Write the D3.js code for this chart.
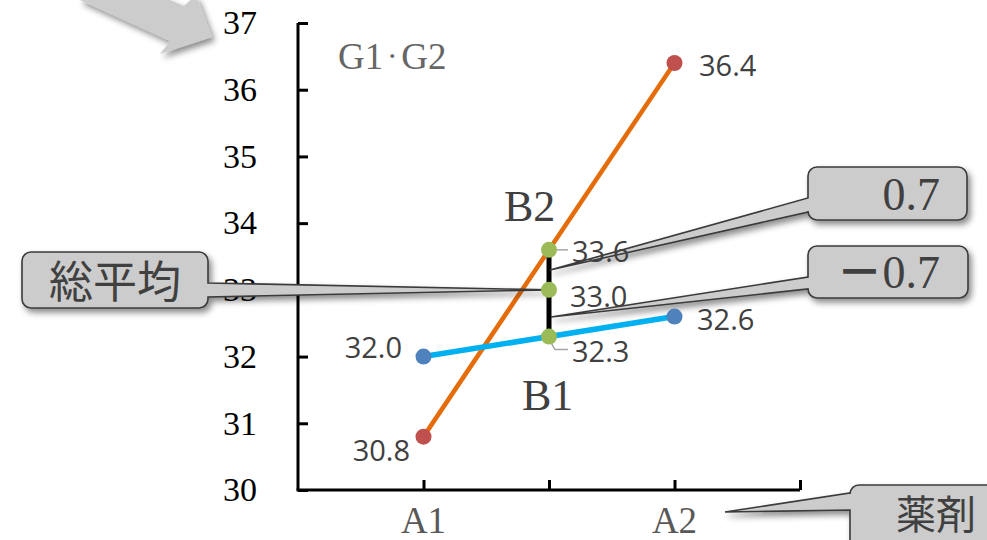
<!DOCTYPE html>
<html><head><meta charset="utf-8">
<script src="https://cdn.jsdelivr.net/npm/d3@7/dist/d3.min.js"></script>
<style>body{margin:0;background:#fff}svg{display:block}</style>
</head><body>
<svg id="c" width="987" height="540"></svg>
<script>
const categories = ["A1", "A2"];
const catPos = [1, 3];
const seriesB2 = [30.8, 36.4];
const seriesB1 = [32.0, 32.6];
const meanValues = [33.6, 33.0, 32.3];
const meanLabels = ["33.6", "33.0", "32.3"];
const yTicks = [30, 31, 32, 33, 34, 35, 36, 37];
const xTickPos = [1, 2, 3, 4];

const svg = d3.select("#c");
const x = d3.scaleLinear().domain([0, 4]).range([298, 800]);
const y = d3.scaleLinear().domain([30, 37]).range([490, 23]);

const defs = svg.append("defs");
const f = defs.append("filter").attr("id", "sh").attr("x", "-20%").attr("y", "-20%").attr("width", "150%").attr("height", "160%");
f.append("feDropShadow").attr("dx", 3).attr("dy", 4).attr("stdDeviation", 3).attr("flood-color", "#000").attr("flood-opacity", 0.45);

// top-left block arrow
svg.append("path")
  .attr("d", d3.line()([[80,0],[170,41],[160,54],[212,37],[196,-5],[184,6],[100,-30]]) + "Z")
  .attr("fill", "#cccccc").attr("filter", "url(#sh)");

// axes
const yAxis = d3.axisRight(y).tickValues(yTicks).tickSize(10).tickFormat("");
const gy = svg.append("g").attr("transform", `translate(${x(0)},0)`).call(yAxis);
gy.select(".domain").attr("d", `M0,${y(37)}V${y(30)}`);
gy.selectAll("path,line").attr("stroke", "#000").attr("stroke-width", 3);

const xAxis = d3.axisTop(x).tickValues(xTickPos).tickSize(10).tickFormat("");
const gx = svg.append("g").attr("transform", `translate(0,${y(30)})`).call(xAxis);
gx.select(".domain").attr("d", `M${x(0)-1.5},0H${x(4)}`);
gx.selectAll("path,line").attr("stroke", "#000").attr("stroke-width", 3);

// y tick labels
svg.append("g").selectAll("text").data(yTicks).join("text")
  .attr("x", 257).attr("y", d => y(d)).attr("dy", "0.33em")
  .attr("text-anchor", "end")
  .attr("font-family", "Liberation Serif").attr("font-size", 34).attr("fill", "#000")
  .text(d => d);

// x category labels
svg.append("g").selectAll("text").data(categories).join("text")
  .attr("x", (d, i) => x(catPos[i])).attr("y", 533)
  .attr("text-anchor", "middle")
  .attr("font-family", "Liberation Serif").attr("font-size", 37).attr("fill", "#595959")
  .text(d => d);

// G1・G2
const g12 = svg.append("text").attr("x", 338).attr("y", 69)
  .attr("font-family", "Liberation Serif").attr("font-size", 37).attr("fill", "#666");
g12.append("tspan").text("G1");
g12.append("tspan").attr("font-size", 18).attr("dy", -6).attr("font-family", "Noto Sans CJK JP").text("・");
g12.append("tspan").attr("dy", 6).text("G2");

const line = d3.line().x(d => x(d[0])).y(d => y(d[1]));

// B2 line
svg.append("path").datum(catPos.map((p, i) => [p, seriesB2[i]]))
  .attr("d", line).attr("fill", "none").attr("stroke", "#e46c0a").attr("stroke-width", 4.5);
// B1 line
svg.append("path").datum(catPos.map((p, i) => [p, seriesB1[i]]))
  .attr("d", line).attr("fill", "none").attr("stroke", "#00b0f0").attr("stroke-width", 5.5);

// vertical black line across means
svg.append("path").datum([[2, d3.max(meanValues)], [2, d3.min(meanValues)]])
  .attr("d", line).attr("fill", "none").attr("stroke", "#000").attr("stroke-width", 5);

// mean leader lines
svg.append("path").attr("d", `M${x(2)+6},${y(meanValues[0])}H${x(2)+19}`)
  .attr("stroke", "#a6a6a6").attr("stroke-width", 1.5).attr("fill", "none");
svg.append("path").attr("d", `M${x(2)+2},${y(meanValues[2])+6}L${x(2)+6},${y(meanValues[2])+13}H${x(2)+19}`)
  .attr("stroke", "#a6a6a6").attr("stroke-width", 1.5).attr("fill", "none");

// callouts
function callout(bx, by, bw, bh, r, side, a, b, tip) {
  const X2 = bx + bw, Y2 = by + bh;
  let p = `M${bx + r},${by}H${X2 - r}A${r},${r} 0 0 1 ${X2},${by + r}`;
  if (side === "right") p += `V${a}L${tip[0]},${tip[1]}L${X2},${b}`;
  p += `V${Y2 - r}A${r},${r} 0 0 1 ${X2 - r},${Y2}H${bx + r}A${r},${r} 0 0 1 ${bx},${Y2 - r}`;
  if (side === "left") p += `V${b}L${tip[0]},${tip[1]}L${bx},${a}`;
  p += `V${by + r}A${r},${r} 0 0 1 ${bx + r},${by}Z`;
  return p;
}
const calloutStyle = sel => sel.attr("fill", "#cccccc").attr("stroke", "#3a3a3a").attr("stroke-width", 1.6).attr("filter", "url(#sh)");

svg.append("path").attr("d", callout(22, 252, 186, 56, 9, "right", 283, 297, [x(2), y(33.0)])).call(calloutStyle);
svg.append("path").attr("d", callout(808, 167, 159, 53, 9, "left", 198, 212, [x(2) + 1, 270])).call(calloutStyle);
svg.append("path").attr("d", callout(808, 246, 160, 52, 9, "left", 277, 289, [x(2) + 2, 317])).call(calloutStyle);
svg.append("path").attr("d", callout(850, 485, 160, 70, 9, "left", 493, 510, [725, 512])).call(calloutStyle);

svg.append("text").attr("x", 115).attr("y", 298).attr("text-anchor", "middle")
  .attr("font-family", "Noto Sans CJK JP").attr("font-size", 44).attr("fill", "#404040").text("総平均");
svg.append("text").attr("x", 940).attr("y", 210).attr("text-anchor", "end")
  .attr("font-family", "Liberation Serif").attr("font-size", 46).attr("fill", "#404040").text("0.7");
const neg = svg.append("text").attr("x", 940).attr("y", 288).attr("text-anchor", "end")
  .attr("font-family", "Liberation Serif").attr("font-size", 46).attr("fill", "#404040");
neg.append("tspan").attr("font-family", "Noto Sans CJK JP").attr("font-weight", 700).text("－");
neg.append("tspan").text("0.7");
svg.append("text").attr("x", 896).attr("y", 529)
  .attr("font-family", "Noto Sans CJK JP").attr("font-size", 40).attr("fill", "#404040").text("薬剤");

// markers
svg.append("g").selectAll("circle").data(seriesB2).join("circle")
  .attr("cx", (d, i) => x(catPos[i])).attr("cy", d => y(d)).attr("r", 8).attr("fill", "#c0504d");
svg.append("g").selectAll("circle").data(seriesB1).join("circle")
  .attr("cx", (d, i) => x(catPos[i])).attr("cy", d => y(d)).attr("r", 8).attr("fill", "#4f81bd");
svg.append("g").selectAll("circle").data(meanValues).join("circle")
  .attr("cx", x(2)).attr("cy", d => y(d)).attr("r", 8).attr("fill", "#9bbb59");

// data labels
const lblFont = sel => sel.attr("font-family", "Open Sans").attr("font-size", 29).attr("fill", "#404040");
svg.append("text").attr("x", 699).attr("y", y(seriesB2[1]) + 13).call(lblFont).text(seriesB2[1].toFixed(1));
svg.append("text").attr("x", 410).attr("y", y(seriesB2[0]) + 24).attr("text-anchor", "end").call(lblFont).text(seriesB2[0].toFixed(1));
svg.append("text").attr("x", 402).attr("y", y(seriesB1[0]) + 1).attr("text-anchor", "end").call(lblFont).text(seriesB1[0].toFixed(1));
svg.append("text").attr("x", 697).attr("y", y(seriesB1[1]) + 13).call(lblFont).text(seriesB1[1].toFixed(1));
svg.append("text").attr("x", x(2) + 23).attr("y", y(meanValues[0]) + 12).call(lblFont).text(meanLabels[0]);
svg.append("text").attr("x", x(2) + 21).attr("y", y(meanValues[1]) + 17).call(lblFont).text(meanLabels[1]);
svg.append("text").attr("x", x(2) + 23).attr("y", y(meanValues[2]) + 25).call(lblFont).text(meanLabels[2]);

// B2 / B1 labels
svg.append("text").attr("x", 504).attr("y", 221)
  .attr("font-family", "Liberation Serif").attr("font-size", 44).attr("fill", "#404040").text("B2");
svg.append("text").attr("x", 522).attr("y", 410)
  .attr("font-family", "Liberation Serif").attr("font-size", 44).attr("fill", "#404040").text("B1");
</script>
</body></html>
